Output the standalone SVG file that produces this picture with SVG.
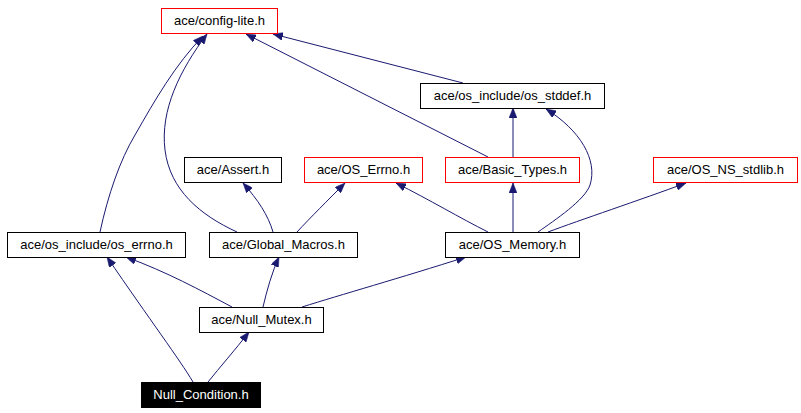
<svg xmlns="http://www.w3.org/2000/svg" width="801" height="413" viewBox="0 0 801 413">
<style>
.box{fill:#fff;stroke:#000;stroke-width:1}
.red{stroke:#f00}
.cur{fill:#000;stroke:#000}
text{font-family:"Liberation Sans",Arial,Helvetica,sans-serif;font-size:13px;text-anchor:middle;fill:#000}
.wt{fill:#fff}
.e{fill:none;stroke:#191970;stroke-width:1;marker-end:url(#ah)}
</style>
<defs>
<marker id="ah" viewBox="0 0 10 8" refX="10" refY="4" markerWidth="10" markerHeight="8" markerUnits="userSpaceOnUse" orient="auto">
<path d="M0,0 L10,4 L0,8 z" fill="#191970" stroke="#191970" stroke-width="0.5"/>
</marker>
</defs>
<rect width="801" height="413" fill="#fff"/>
<g id="edges">
<path class="e" d="M100,232 C108,195 120,160 135,135 C155,100 175,65 203,36"/>
<path class="e" d="M237,232 C200,215 170,190 165,150 C160,110 180,70 207,34"/>
<path class="e" d="M488,157 L246,34"/>
<path class="e" d="M463,83 L273,34"/>
<path class="e" d="M513,157 L513,108"/>
<path class="e" d="M538,232 C555,220 585,200 590,185 C598,160 580,130 546,109"/>
<path class="e" d="M513,232 L513,183"/>
<path class="e" d="M548,232 C580,220 640,200 686,183"/>
<path class="e" d="M488,232 C460,218 430,200 396,183"/>
<path class="e" d="M273,232 C268,215 258,200 243,183"/>
<path class="e" d="M297,232 C310,218 328,200 345,183"/>
<path class="e" d="M232,307 C200,290 167,272 126,257"/>
<path class="e" d="M263,307 C267,290 272,272 279,257"/>
<path class="e" d="M302,307 C340,295 400,278 466,257"/>
<path class="e" d="M193,382 C180,360 150,320 107,257"/>
<path class="e" d="M208,382 C220,367 235,350 249,332"/>
</g>
<g id="config-lite"><rect class="box red" x="161.5" y="8.5" width="116" height="25"/><text x="219.5" y="25">ace/config-lite.h</text></g>
<g id="os_stddef"><rect class="box" x="420.5" y="83.5" width="184" height="25"/><text x="512.5" y="100">ace/os_include/os_stddef.h</text></g>
<g id="Assert"><rect class="box" x="184.5" y="157.5" width="97" height="25"/><text x="233" y="174">ace/Assert.h</text></g>
<g id="OS_Errno"><rect class="box red" x="304.5" y="157.5" width="118" height="25"/><text x="363.5" y="174">ace/OS_Errno.h</text></g>
<g id="Basic_Types"><rect class="box red" x="445.5" y="157.5" width="134" height="25"/><text x="512.5" y="174">ace/Basic_Types.h</text></g>
<g id="OS_NS_stdlib"><rect class="box red" x="653.5" y="157.5" width="144" height="25"/><text x="725.5" y="174">ace/OS_NS_stdlib.h</text></g>
<g id="os_errno"><rect class="box" x="7.5" y="232.5" width="178" height="25"/><text x="96.5" y="249">ace/os_include/os_errno.h</text></g>
<g id="Global_Macros"><rect class="box" x="209.5" y="232.5" width="148" height="25"/><text x="283.5" y="249">ace/Global_Macros.h</text></g>
<g id="OS_Memory"><rect class="box" x="445.5" y="232.5" width="134" height="25"/><text x="512.5" y="249">ace/OS_Memory.h</text></g>
<g id="Null_Mutex"><rect class="box" x="199.5" y="307.5" width="124" height="25"/><text x="261.5" y="324">ace/Null_Mutex.h</text></g>
<g id="Null_Condition"><rect class="cur" x="141.5" y="382.5" width="119" height="25"/><text class="wt" x="201" y="399">Null_Condition.h</text></g>
</svg>
